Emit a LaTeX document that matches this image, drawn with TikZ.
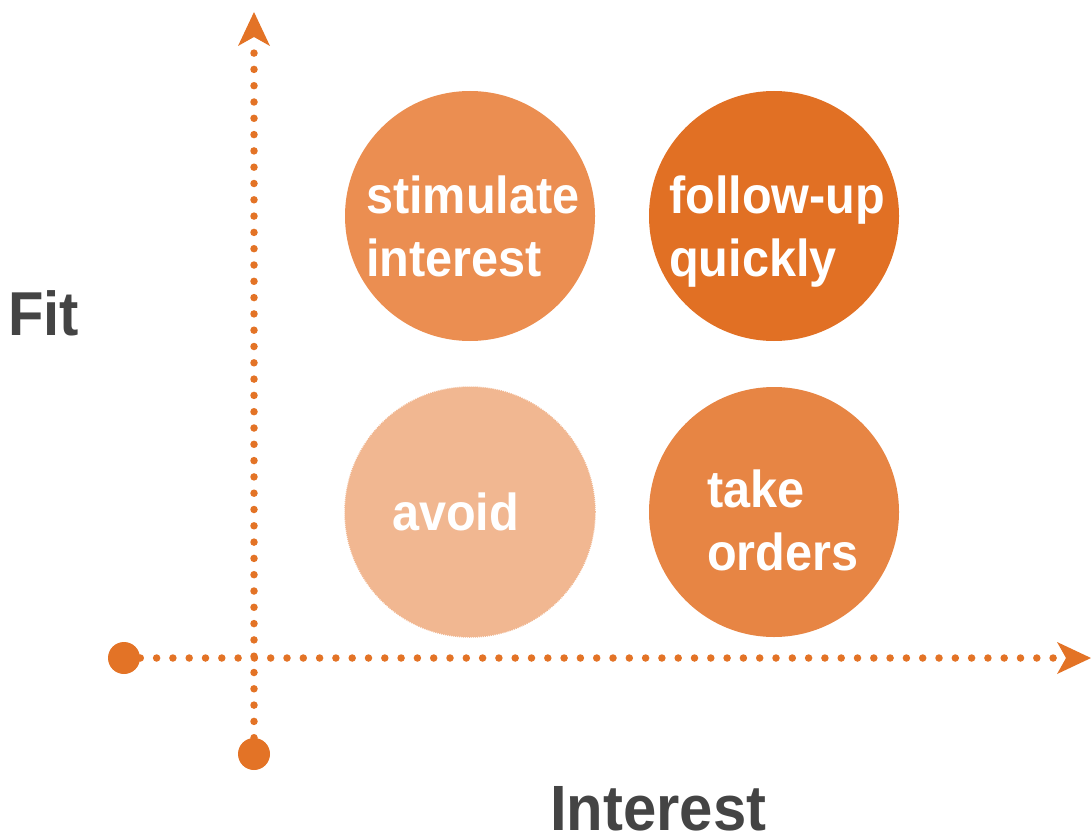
\documentclass[tikz,border=0pt]{standalone}
\usepackage{fontspec}
\usetikzlibrary{arrows.meta}
\newfontfamily\labfont[FakeStretch=0.935]{Liberation Sans}
\definecolor{axiscol}{HTML}{E37326}
\definecolor{cstim}{HTML}{EB8E51}
\definecolor{cfollow}{HTML}{E17024}
\definecolor{cavoid}{HTML}{F1B791}
\definecolor{ctake}{HTML}{E78544}
\definecolor{axtext}{HTML}{444444}
\tikzset{
  circ/.style={circle, minimum size=250pt, inner sep=0pt},
  enddot/.style={circle, fill=axiscol, minimum size=32pt, inner sep=0pt},
  axisline/.style={axiscol, line width=7.5pt, line cap=round, dash pattern=on 0pt off 16.3pt,
    -{Stealth[length=34pt,width=32pt,inset=9pt,line width=0pt]}},
  intext/.style={anchor=base west, inner sep=0pt, text=white, font=\labfont\bfseries\fontsize{52}{63}\selectfont},
  axlabel/.style={anchor=base west, inner sep=0pt, text=axtext, font=\labfont\bfseries\fontsize{64}{70}\selectfont}
}
\begin{document}
\begin{tikzpicture}[x=1pt,y=-1pt]
\useasboundingbox (0,0) rectangle (1091,837);
% circles
\node[circ, fill=cstim] (stim) at (470,216) {};
\node[circ, fill=cfollow] (follow) at (774,216) {};
\node[circ, fill=cavoid, draw=cavoid, line width=1.5pt, dash pattern=on 1pt off 1pt] (avoid) at (470,512) {};
\node[circ, fill=ctake] (take) at (774,512) {};
% circle texts
\node[intext] (t1) at (366,213) {stimulate};
\node[intext] (t2) at (366,276) {interest};
\node[intext] (t3) at (669,213) {follow-up};
\node[intext] (t4) at (669,276) {quickly};
\node[intext] (t5) at (392,530) {avoid};
\node[intext] (t6) at (707,507) {take};
\node[intext] (t7) at (707,570) {orders};
% axes
\node[enddot] (hdot) at (124,658) {};
\node[enddot] (vdot) at (254,754) {};
\coordinate (htip) at (1091,658);
\coordinate (vtip) at (254,12);
\draw[axisline] (hdot.center) -- (htip);
\draw[axisline] (vdot.center) -- (vtip);
% axis labels
\node[axlabel, font=\labfont\bfseries\fontsize{62}{70}\selectfont] (fit) at (8,335) {Fit};
\node[axlabel] (interest) at (550,830) {Interest};
\end{tikzpicture}
\end{document}
